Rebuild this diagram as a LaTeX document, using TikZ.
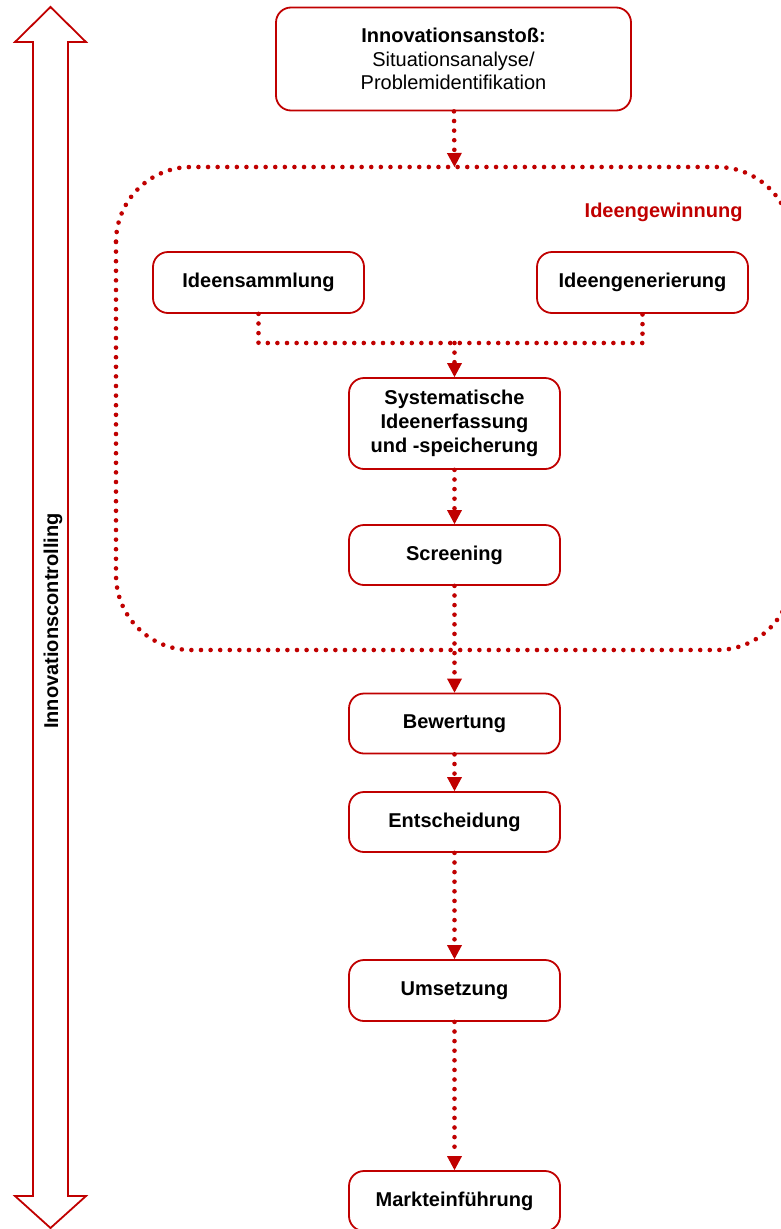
\documentclass[tikz,border=0pt]{standalone}
\usepackage{fontspec}
\setmainfont{Liberation Sans}
\usetikzlibrary{arrows.meta}
\definecolor{darkred}{RGB}{192,0,0}

\begin{document}
\begin{tikzpicture}[x = 1pt, y = -1pt,
	> = {Triangle[width = 15pt, length = 14pt, line width = 0pt]},
	phase/.style = {draw = darkred, line width = 1.8pt, rounded corners = 15pt, fill = white,
		align = center, inner sep = 0pt, minimum width = 211pt, minimum height = 60pt,
		font = \fontsize{20}{23.7}\selectfont\bfseries},
	flow/.style = {darkred, line width = 4.6pt, line cap = round, dash pattern = on 0pt off 9.6pt}]

	\useasboundingbox (0, 0) rectangle (781, 1229);

	% Controlling arrow

	\draw [darkred, line width = 1.8pt] (50.5, 7) -- (86, 42) -- (68, 42) -- (68, 1196) -- (86, 1196)
		-- (50.5, 1228) -- (15, 1196) -- (33, 1196) -- (33, 42) -- (15, 42) -- cycle;
	\node [rotate = 90, font = \fontsize{20}{24}\selectfont\bfseries] (controlling) at (53, 621) {Innovationscontrolling};

	% Idea generation area

	\draw [flow, rounded corners = 75pt] (116, 167) rectangle (792, 650);
	\node [anchor = east, text = darkred, font = \fontsize{20}{24}\selectfont\bfseries] (gewinnung) at (746, 212) {Ideengewinnung};

	% Phases

	\node [phase, minimum width = 355pt, minimum height = 103pt] (anstoss) at (453.5, 59)
		{Innovationsanstoß:\\\mdseries Situationsanalyse/\\\mdseries Problemidentifikation};
	\node [phase, minimum height = 61pt] (sammlung) at (258.5, 282.5) {Ideensammlung};
	\node [phase, minimum height = 61pt] (generierung) at (642.5, 282.5) {Ideengenerierung};
	\node [phase, minimum height = 91pt] (erfassung) at (454.5, 423.5) {Systematische\\Ideenerfassung\\und -speicherung};
	\node [phase] (screening) at (454.5, 555) {Screening};
	\node [phase] (bewertung) at (454.5, 723.5) {Bewertung};
	\node [phase] (entscheidung) at (454.5, 822) {Entscheidung};
	\node [phase, minimum height = 61pt] (umsetzung) at (454.5, 990.5) {Umsetzung};
	\node [phase] (markt) at (454.5, 1201) {Markteinführung};

	% Connectors

	\coordinate (rahmen) at (454.5, 167);
	\coordinate (sammel) at (454.5, 343);

	\draw [flow, ->] (anstoss) -- (rahmen);
	\draw [flow] (sammlung.south) |- (sammel) -| (generierung.south);
	\draw [flow, ->] (sammel) -- (erfassung);
	\draw [flow, ->] (erfassung) -- (screening);
	\draw [flow, ->] (screening) -- (bewertung);
	\draw [flow, ->] (bewertung) -- (entscheidung);
	\draw [flow, ->] (entscheidung) -- (umsetzung);
	\draw [flow, ->] (umsetzung) -- (markt);

\end{tikzpicture}
\end{document}
